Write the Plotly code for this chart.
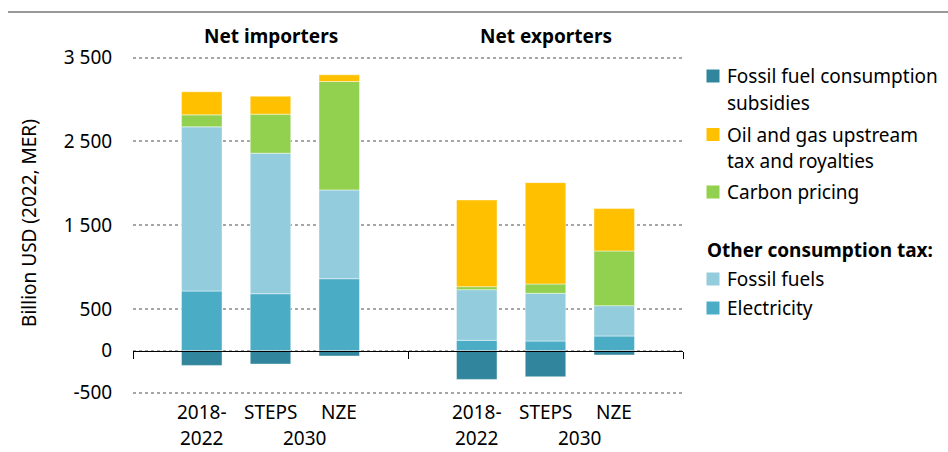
import plotly.graph_objects as go

groups = ["Net importers", "Net exporters"]
scenarios = ["2018-2022", "STEPS", "NZE"]
scenario_line1 = ["2018-", "STEPS", "NZE"]
scenario_line2 = ["2022", "2030"]

electricity = {"Net importers": [713, 681, 860], "Net exporters": [124, 116, 176]}
fossil_fuels = {"Net importers": [1960, 1677, 1060], "Net exporters": [605, 570, 362]}
carbon_pricing = {"Net importers": [143, 466, 1294], "Net exporters": [36, 111, 653]}
oil_gas_upstream = {"Net importers": [275, 215, 80], "Net exporters": [1035, 1210, 506]}
subsidies = {"Net importers": [-175, -159, -63], "Net exporters": [-342, -311, -51]}

y_tickvals = [-500, 0, 500, 1500, 2500, 3500]
y_ticktext = ["-500", "0", "500", "1 500", "2 500", "3 500"]

legend_header = "Other consumption tax:"

FONT = "Noto Sans"
FS = 19
SLOTS = 4  # slots per group

W, H = 948, 452
L, R, T, B = 133, 265, 45, 51
pw, ph = W - L - R, H - T - B


def px(pix):
    return (pix - L) / pw


def py(pix):
    return (H - B - pix) / ph


xs = []
for gi, g in enumerate(groups):
    for si, s in enumerate(scenarios):
        xs.append(gi * SLOTS + si + 1)


def flat(d):
    out = []
    for g in groups:
        out.extend(d[g])
    return out


# (legend lines, data, colour, legend first-line pixel y)
series = [
    (["Electricity"], electricity, "#4BACC6", 308),
    (["Fossil fuels"], fossil_fuels, "#93CDDD", 279),
    (["Carbon pricing"], carbon_pricing, "#92D050", 192),
    (["Oil and gas upstream", "tax and royalties"], oil_gas_upstream, "#FFC000", 134.5),
    (["Fossil fuel consumption", "subsidies"], subsidies, "#31859C", 76),
]

fig = go.Figure()
annotations = []
shapes = []
for lines, d, color, ly in series:
    fig.add_trace(go.Bar(
        x=xs, y=flat(d), name=" ".join(lines), width=0.59,
        marker=dict(color=color, line=dict(color="rgba(255,255,255,0.45)", width=1)),
        showlegend=False,
    ))
    shapes.append(dict(type="rect", xref="paper", yref="paper",
                       x0=px(706.5), x1=px(719.5), y0=py(ly - 6.5), y1=py(ly + 6.5),
                       fillcolor=color, line=dict(width=0)))
    for li, t in enumerate(lines):
        annotations.append(dict(x=px(725), y=py(ly + li * 26.5), xref="paper", yref="paper",
                                text=t, showarrow=False, xanchor="left", yanchor="middle",
                                font=dict(family=FONT, size=FS, color="black")))

annotations.append(dict(x=px(705), y=py(250), xref="paper", yref="paper",
                        text=f"<b>{legend_header}</b>", showarrow=False,
                        xanchor="left", yanchor="middle",
                        font=dict(family=FONT, size=FS, color="black")))

for gi, g in enumerate(groups):
    annotations.append(dict(x=gi * SLOTS + 2, y=py(36), xref="x", yref="paper",
                            text=f"<b>{g}</b>", showarrow=False,
                            font=dict(family=FONT, size=FS, color="black"),
                            xanchor="center", yanchor="middle"))
    for si, s in enumerate(scenarios):
        annotations.append(dict(x=gi * SLOTS + si + 1, y=py(412), xref="x", yref="paper",
                                text=scenario_line1[si], showarrow=False,
                                font=dict(family=FONT, size=FS, color="black"),
                                xanchor="center", yanchor="middle"))
    annotations.append(dict(x=gi * SLOTS + 1, y=py(437.5), xref="x", yref="paper",
                            text=scenario_line2[0], showarrow=False, borderpad=0,
                            font=dict(family=FONT, size=FS, color="black"),
                            xanchor="center", yanchor="middle"))
    annotations.append(dict(x=gi * SLOTS + 2.5, y=py(437.5), xref="x", yref="paper",
                            text=scenario_line2[1], showarrow=False, borderpad=0,
                            font=dict(family=FONT, size=FS, color="black"),
                            xanchor="center", yanchor="middle"))

shapes.append(dict(type="line", xref="paper", yref="paper",
                   x0=px(8), x1=px(948), y0=py(12), y1=py(12),
                   line=dict(color="#999999", width=2)))

fig.update_layout(
    width=W, height=H,
    margin=dict(l=L, r=R, t=T, b=B),
    paper_bgcolor="white", plot_bgcolor="white",
    barmode="relative",
    font=dict(family=FONT, size=FS, color="black"),
    showlegend=False,
    xaxis=dict(range=[0, len(groups) * SLOTS], anchor="free", position=600 / 4250,
               showline=True, linecolor="black", linewidth=1,
               ticks="outside", tickvals=[gi * SLOTS for gi in range(len(groups) + 1)],
               ticklen=7, tickcolor="black", tickwidth=1,
               showticklabels=False, showgrid=False, zeroline=False, fixedrange=True),
    yaxis=dict(range=[-600, 3650], tickvals=y_tickvals, ticktext=y_ticktext,
               showgrid=True, griddash="dot", gridcolor="#a6a6a6", gridwidth=1.5,
               zeroline=False, showline=False,
               ticks="outside", ticklen=16, tickcolor="rgba(0,0,0,0)",
               tickfont=dict(family=FONT, size=FS, color="black"),
               title=dict(text="Billion USD (2022, MER)", standoff=22,
                          font=dict(family=FONT, size=FS, color="black")),
               automargin=False, fixedrange=True),
    annotations=annotations,
    shapes=shapes,
)

fig.write_html("out.html", config={"displayModeBar": False},
               post_script="document.body.style.margin='0px';document.body.style.padding='0px';")
